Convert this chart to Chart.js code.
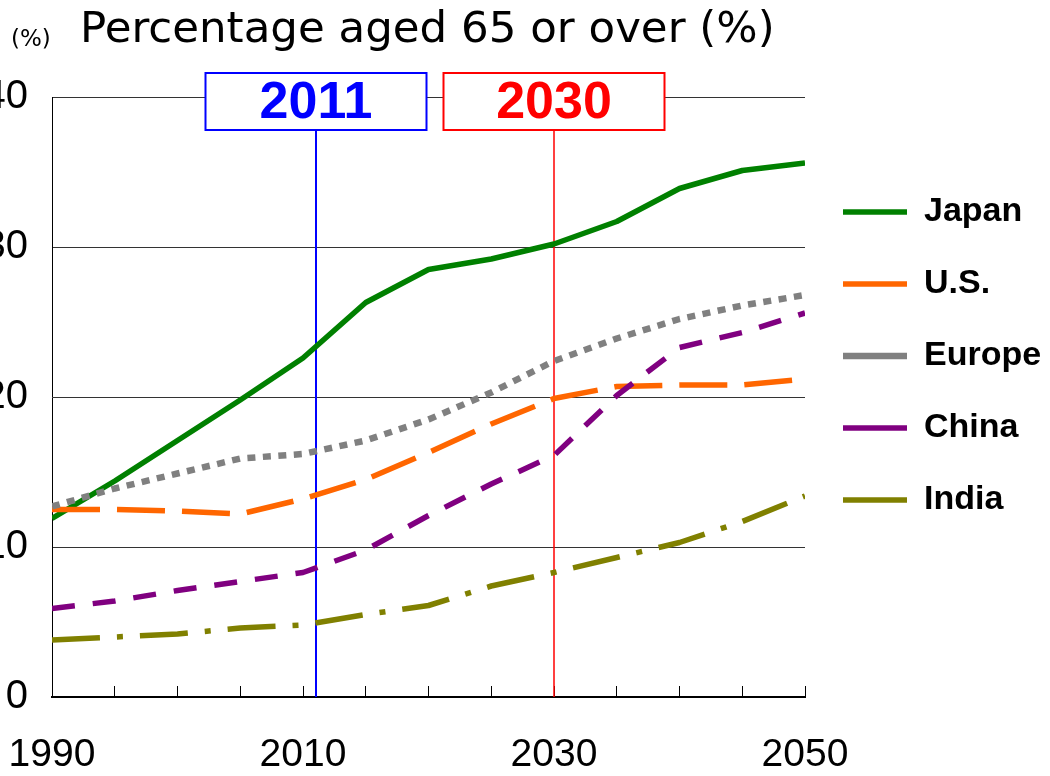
<!DOCTYPE html>
<html>
<head>
<meta charset="utf-8">
<script src="https://cdn.jsdelivr.net/npm/chart.js@4/dist/chart.umd.min.js"></script>
<style>
  body { margin: 0; background: #fff; overflow: hidden; }
  #wrap { position: absolute; left: -20px; top: 0; width: 1070px; height: 776px; }
</style>
</head>
<body>
<div id="wrap"><canvas id="chart"></canvas></div>
<script>
const years = [1990, 1995, 2000, 2005, 2010, 2015, 2020, 2025, 2030, 2035, 2040, 2045, 2050];
const japan  = [11.9, 14.4, 17.1, 19.8, 22.6, 26.3, 28.5, 29.2, 30.2, 31.7, 33.9, 35.1, 35.6];
const us     = [12.5, 12.5, 12.4, 12.2, 13.2, 14.5, 16.3, 18.2, 19.9, 20.7, 20.8, 20.8, 21.2];
const europe = [12.7, 13.9, 14.9, 15.9, 16.2, 17.1, 18.5, 20.3, 22.4, 23.9, 25.2, 26.1, 26.8];
const china  = [5.9, 6.4, 7.1, 7.7, 8.3, 9.8, 12.1, 14.2, 16.1, 20.1, 23.3, 24.3, 25.6];
const india  = [3.8, 4.0, 4.2, 4.6, 4.8, 5.5, 6.1, 7.4, 8.3, 9.3, 10.3, 11.7, 13.4];
const seriesNames = ["Japan", "U.S.", "Europe", "China", "India"];
const xLabelYears = [1990, 2010, 2030, 2050];
const markYears = ["2011", "2030"];
const titleText = "Percentage aged 65 or over (%)";
const unitText = "(%)";

const OFF = 20; // canvas is shifted left by this much

function pts(vals) {
    return years.map((y, i) => ({ x: y, y: vals[i] }));
}

const markColors = ["#0000ff", "#ff0000"];

const overlay = {
    id: "overlay",
    beforeDatasetsDraw(chart) {
        const ctx = chart.ctx;
        const xs = chart.scales.x;
        const area = chart.chartArea;
        ctx.save();
        markYears.forEach((yr, i) => {
            const px = Math.round(xs.getPixelForValue(Number(yr)));
            ctx.strokeStyle = markColors[i];
            ctx.lineWidth = i == 0 ? 2 : 1.5;
            ctx.beginPath();
            ctx.moveTo(px, 130);
            ctx.lineTo(px, area.bottom);
            ctx.stroke();
        });
        ctx.restore();
    },
    afterDraw(chart) {
        const ctx = chart.ctx;
        const xs = chart.scales.x;
        ctx.save();
        // boxes with years
        markYears.forEach((yr, i) => {
            const px = Math.round(xs.getPixelForValue(Number(yr)));
            const w = 221, h = 57, top = 73;
            ctx.fillStyle = "#fff";
            ctx.fillRect(px - w / 2, top, w, h);
            ctx.strokeStyle = markColors[i];
            ctx.lineWidth = 2;
            ctx.strokeRect(px - w / 2, top, w, h);
            ctx.fillStyle = markColors[i];
            ctx.font = "bold 52px 'Liberation Sans'";
            ctx.textAlign = "center";
            ctx.textBaseline = "middle";
            ctx.fillText(yr, px, top + h / 2 + 2);
        });
        // title texts
        ctx.fillStyle = "#000";
        ctx.textAlign = "left";
        ctx.textBaseline = "alphabetic";
        ctx.font = "23px 'DejaVu Sans'";
        ctx.fillText(unitText, 11 + OFF, 46);
        ctx.font = "43.5px 'DejaVu Sans'";
        ctx.fillText(titleText, 80 + OFF, 42);
        ctx.restore();
    }
};

Chart.defaults.font.family = "'Liberation Sans', Arial, sans-serif";
Chart.defaults.color = "#000";

let ctx = document.getElementById("chart").getContext("2d");

let chart = new Chart(ctx, {
    type: "line",
    data: {
        datasets: [
            { label: seriesNames[0], data: pts(japan), borderColor: "#008000", backgroundColor: "#008000",
              borderWidth: 5.5, order: 4 },
            { label: seriesNames[1], data: pts(us), borderColor: "#ff6600", backgroundColor: "#ff6600",
              borderWidth: 5.5, borderDash: [48, 17], order: 3 },
            { label: seriesNames[2], data: pts(europe), borderColor: "#808080", backgroundColor: "#808080",
              borderWidth: 6.5, borderDash: [8, 7.5], order: 2 },
            { label: seriesNames[3], data: pts(china), borderColor: "#800080", backgroundColor: "#800080",
              borderWidth: 5.5, borderDash: [23, 18], order: 1 },
            { label: seriesNames[4], data: pts(india), borderColor: "#808000", backgroundColor: "#808000",
              borderWidth: 5.5, borderDash: [48, 17, 6, 17], order: 0 }
        ]
    },
    options: {
        responsive: true,
        maintainAspectRatio: false,
        animation: false,
        devicePixelRatio: 1,
        elements: {
            point: { radius: 0, hoverRadius: 0 },
            line: { tension: 0, fill: false, borderCapStyle: "butt", borderJoinStyle: "round" }
        },
        layout: { padding: { top: 97, left: 0, right: 5, bottom: 0 } },
        scales: {
            x: {
                type: "linear",
                min: 1990,
                max: 2050,
                afterFit: (s) => { s.height = 79; },
                border: { color: "#000", width: 2 },
                grid: { drawOnChartArea: false, drawTicks: true, tickLength: -11, color: "#000", lineWidth: 1 },
                ticks: {
                    stepSize: 5,
                    autoSkip: false,
                    maxRotation: 0,
                    padding: 20,
                    font: { size: 39, lineHeight: 2.5 },
                    callback: (v) => xLabelYears.includes(v) ? String(v) : ""
                }
            },
            y: {
                min: 0,
                max: 40,
                afterFit: (s) => { s.width = 72; },
                border: { color: "#000", width: 1 },
                grid: { drawTicks: false, color: "#333", lineWidth: 1 },
                ticks: { stepSize: 10, padding: 24, font: { size: 40 } }
            }
        },
        plugins: {
            tooltip: { enabled: false },
            legend: {
                position: "right",
                align: "start",
                maxWidth: 240,
                title: { display: true, text: " ", font: { size: 10 }, padding: 24 },
                labels: {
                    usePointStyle: true,
                    pointStyle: "line",
                    pointStyleWidth: 64,
                    padding: 38,
                    color: "#000",
                    font: { size: 34, weight: "bold" },
                    sort: (a, b) => a.datasetIndex - b.datasetIndex
                }
            }
        }
    },
    plugins: [overlay]
});
</script>
</body>
</html>
